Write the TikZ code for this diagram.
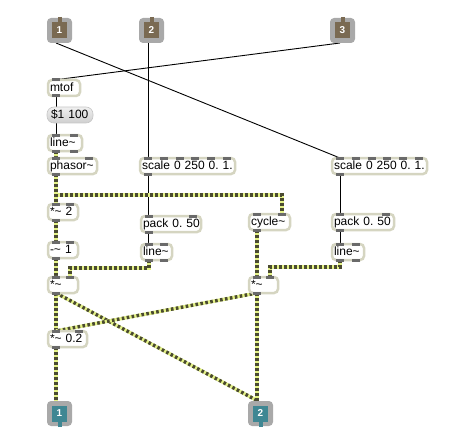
\documentclass[tikz,border=0pt]{standalone}
\usepackage{fontspec}
\setmainfont{Liberation Sans}
\usetikzlibrary{calc,backgrounds}

\definecolor{objborder}{HTML}{D5D5C1}
\definecolor{tabgrey}{HTML}{6A6A6A}
\definecolor{iogrey}{HTML}{A9A9A9}
\definecolor{inbrown}{HTML}{7A6A52}
\definecolor{outteal}{HTML}{3F8793}
\definecolor{sigdark}{HTML}{4A4A30}
\definecolor{siglight}{HTML}{E4F287}

\newcommand{\maxfont}{\fontsize{12}{14}\selectfont\frenchspacing}
\newcommand{\tld}{\textasciitilde}

% inlet / outlet tabs along the top and bottom edge of a box
\newcommand{\iotabs}[3]{%
  \foreach \i in {1,...,#2}{%
    \pgfmathsetmacro{\tpos}{(\i-1)/max(#2-1,1)}
    \draw[iotab] ($(#1.north west)!\tpos!(#1.north east)+({8-16*\tpos},0)$) ++(-4,0) -- ++(8,0);
  }
  \foreach \i in {1,...,#3}{%
    \pgfmathsetmacro{\tpos}{(\i-1)/max(#3-1,1)}
    \draw[iotab] ($(#1.south west)!\tpos!(#1.south east)+({8-16*\tpos},0)$) ++(-4,0) -- ++(8,0);
  }
}

% patcher inlet and outlet
\newcommand{\maxinlet}[4]{%
  \node[iobox] (#1) at (#2,#3) {};
  \draw[line width=4pt, draw=inbrown] ($(#1.north)+(0,-1)$) -- ++(0,7);
  \node[iocore, fill=inbrown] (#1core) at (#1.center) {#4};
}
\newcommand{\maxoutlet}[4]{%
  \node[iobox] (#1) at (#2,#3) {};
  \draw[line width=4pt, draw=outteal] ($(#1.south)+(0,1)$) -- ++(0,-7);
  \node[iocore, fill=outteal] (#1core) at (#1.center) {#4};
}

\begin{document}
\begin{tikzpicture}[x=1pt, y=-1pt,
  obj/.style={draw=objborder, line width=2.5pt, fill=white, rounded corners=4pt,
    anchor=north west, outer sep=0pt, inner xsep=2pt, inner ysep=0pt,
    minimum height=16pt, text height=9.5pt, text depth=2.5pt, align=left, font=\maxfont},
  msgbox/.style={draw=gray!45, line width=0.6pt, top color=gray!12, bottom color=gray!38,
    rounded corners=7pt, anchor=north west, outer sep=0pt, inner xsep=4pt, inner ysep=0pt,
    minimum height=16pt, text height=9.5pt, text depth=2.5pt, align=left, font=\maxfont},
  iobox/.style={fill=iogrey, rounded corners=4pt, minimum size=25pt, anchor=north west,
    inner sep=0pt, outer sep=0pt},
  iocore/.style={minimum width=15pt, minimum height=16pt, inner sep=0pt, text=white,
    font=\fontsize{10}{12}\selectfont\bfseries},
  iotab/.style={line width=3pt, draw=tabgrey, line cap=butt},
  ctl/.style={line width=0.9pt, draw=black},
  sig/.style={line width=3.4pt, draw=sigdark, dash pattern=on 2.6pt off 2.4pt,
    preaction={draw=siglight, solid, line width=3.4pt}},
]
\useasboundingbox (0,0) rectangle (460,441);

% inlets
\maxinlet{in1}{47}{18}{1}
\maxinlet{in2}{139}{18}{2}
\maxinlet{in3}{330}{18}{3}

% left column
\node[obj, text width=28pt] (mtof) at (48,80) {mtof};
\node[msgbox, text width=38pt] (msg) at (47,107) {\mbox{\$1 100}};
\node[obj, text width=30pt] (line1) at (48,135) {line\tld};
\node[obj, text width=45pt] (phasor) at (48,158) {phasor\tld};
\node[obj, text width=26pt] (mul2) at (48,204) {\mbox{*\tld{} 2}};
\node[obj, text width=26pt] (sub1) at (48,242) {\mbox{-\tld{} 1}};
\node[obj, text width=26pt] (mulA) at (48,277) {*\tld};
\node[obj, text width=35pt] (mul02) at (48,331) {\mbox{*\tld{} 0.2}};

% middle
\node[obj, text width=91pt] (scaleA) at (140,158) {\mbox{scale 0 250 0. 1.}};
\node[obj, text width=56pt] (packA) at (141,216) {\mbox{pack 0. 50}};
\node[obj, text width=27pt] (lineA) at (141,244) {line\tld};
\node[obj, text width=37pt] (cycle) at (249,214) {cycle\tld};
\node[obj, text width=25pt] (mulB) at (249,277) {*\tld};

% right
\node[obj, text width=91pt] (scaleB) at (332,158) {\mbox{scale 0 250 0. 1.}};
\node[obj, text width=58pt] (packB) at (332,214) {\mbox{pack 0. 50}};
\node[obj, text width=28pt] (lineB) at (332,244) {line\tld};

% outlets
\maxoutlet{out1}{47}{401}{1}
\maxoutlet{out2}{248}{401}{2}

\iotabs{mtof}{1}{1}
\iotabs{line1}{2}{2}
\iotabs{phasor}{2}{1}
\iotabs{mul2}{2}{1}
\iotabs{sub1}{2}{1}
\iotabs{mulA}{2}{1}
\iotabs{mul02}{2}{1}
\iotabs{scaleA}{6}{1}
\iotabs{packA}{2}{1}
\iotabs{lineA}{2}{2}
\iotabs{cycle}{2}{1}
\iotabs{mulB}{2}{1}
\iotabs{scaleB}{6}{1}
\iotabs{packB}{2}{1}
\iotabs{lineB}{2}{2}

% patch cords
\begin{scope}[on background layer]
  \draw[ctl] ($(in1.south west)+(9,0)$) -- ($(scaleB.north west)+(8,0)$);
  \draw[ctl] ($(in3.south west)+(10,0)$) -- ($(mtof.north west)+(6,0)$);
  \draw[ctl] ($(in2.south west)+(9,0)$) -- ($(scaleA.north west)+(8,0)$);
  \draw[ctl] ($(mtof.south west)+(8,0)$) -- ($(msg.north west)+(9,0)$);
  \draw[ctl] ($(msg.south west)+(9,0)$) -- ($(line1.north west)+(8,0)$);
  \draw[ctl] ($(scaleA.south west)+(8,0)$) -- ($(packA.north west)+(7,0)$);
  \draw[ctl] ($(packA.south west)+(7,0)$) -- ($(lineA.north west)+(7,0)$);
  \draw[ctl] ($(scaleB.south west)+(8,0)$) -- ($(packB.north west)+(8,0)$);
  \draw[ctl] ($(packB.south west)+(8,0)$) -- ($(lineB.north west)+(8,0)$);

  \draw[sig] ($(line1.south west)+(8,0)$) -- ($(phasor.north west)+(8,0)$);
  \draw[sig] ($(phasor.south west)+(8,0)$) -- ++(0,21) -| ($(cycle.north east)+(-8,0)$);
  \draw[sig] ($(phasor.south west)+(8,0)$) -- ($(mul2.north west)+(8,0)$);
  \draw[sig] ($(mul2.south west)+(8,0)$) -- ($(sub1.north west)+(8,0)$);
  \draw[sig] ($(sub1.south west)+(8,0)$) -- ($(mulA.north west)+(8,0)$);
  \draw[sig] ($(lineA.south west)+(8,0)$) -- ++(0,8) -| ($(mulA.north east)+(-8,0)$);
  \draw[sig] ($(lineB.south west)+(8,0)$) -- ++(0,7) -| ($(mulB.north east)+(-8,0)$);
  \draw[sig] ($(cycle.south west)+(8,0)$) -- ($(mulB.north west)+(8,0)$);
  \draw[sig] ($(mulA.south west)+(8,0)$) -- ($(mul02.north west)+(8,0)$);
  \draw[sig] ($(mulA.south west)+(8,0)$) -- ($(out2.north west)+(10,0)$);
  \draw[sig] ($(mulB.south west)+(8,0)$) -- ($(mul02.north west)+(8,0)$);
  \draw[sig] ($(mulB.south west)+(8,0)$) -- ($(out2.north west)+(9,0)$);
  \draw[sig] ($(mul02.south west)+(8,0)$) -- ($(out1.north west)+(9,0)$);
\end{scope}
\end{tikzpicture}
\end{document}
